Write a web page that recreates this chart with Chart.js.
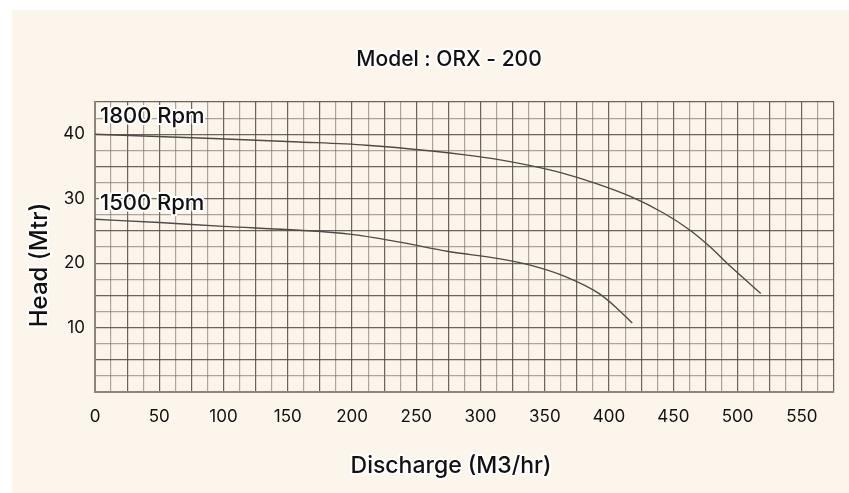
<!DOCTYPE html>
<html>
<head>
<meta charset="utf-8">
<script src="https://cdn.jsdelivr.net/npm/chart.js@4.4.1/dist/chart.umd.min.js"></script>
<style>
  html, body { margin: 0; padding: 0; background: #ffffff; }
  #wrap { width: 849px; height: 493px; }
</style>
</head>
<body>
<div id="wrap"><canvas id="pumpChart" width="849" height="493"></canvas></div>
<script>

// discharge (M3/hr) / head (Mtr)
var flow1800 = [0, 97, 159, 211, 262, 288, 313, 337, 363, 389, 417, 443, 463, 477, 495, 518];
var head1800 = [40, 39.3, 38.8, 38.3, 37.4, 36.8, 36.1, 35.2, 34.0, 32.4, 30.3, 27.7, 25.1, 22.8, 19.4, 15.3];

var flow1500 = [0, 50, 100, 159, 198, 236, 275, 314, 340, 366, 392, 405, 418];
var head1500 = [26.8, 26.3, 25.7, 25.1, 24.5, 23.3, 21.8, 20.7, 19.6, 17.9, 15.3, 13.2, 10.7];

var xTickLabels = [0, 50, 100, 150, 200, 250, 300, 350, 400, 450, 500, 550];
var yTickLabels = [10, 20, 30, 40];

var curveNames = ["1800 Rpm", "1500 Rpm"];
var nameAtHead = [42.8, 29.3];

var chartTitle = "Model : ORX - 200";
var xTitle = "Discharge (M3/hr)";
var yTitle = "Head (Mtr)";

var cream = "#fcf5ec";
var fontName = "Inter, 'Open Sans', sans-serif";

function toPoints(xs, ys) {
  var pts = [];
  for (var i = 0; i < xs.length; i++) {
    pts.push({ x: xs[i], y: ys[i] });
  }
  return pts;
}

function haloText(c, text, x, y, size) {
  c.font = "500 " + size + "px " + fontName;
  c.lineJoin = "round";
  c.strokeStyle = "#ffffff";
  c.lineWidth = 4;
  c.strokeText(text, x, y);
  c.fillStyle = "#111111";
  c.fillText(text, x, y);
}

var backdrop = {
  id: "backdrop",
  beforeDraw: function (chart) {
    var c = chart.ctx;
    c.save();
    c.fillStyle = "#ffffff";
    c.fillRect(0, 0, chart.width, chart.height);
    c.fillStyle = cream;
    c.fillRect(12, 10, chart.width - 12, chart.height - 10);
    c.restore();
  }
};

// titles and curve names with a white halo, like the original
var annotations = {
  id: "annotations",
  afterDraw: function (chart) {
    var c = chart.ctx;
    var ys = chart.scales.y;
    c.save();
    c.textBaseline = "middle";
    c.textAlign = "left";
    for (var i = 0; i < curveNames.length; i++) {
      haloText(c, curveNames[i], chart.chartArea.left + 5, ys.getPixelForValue(nameAtHead[i]), 22);
    }
    c.textAlign = "center";
    haloText(c, chartTitle, 449, 60, 21);
    haloText(c, xTitle, 451, 466, 23);
    c.translate(40, 265);
    c.rotate(-Math.PI / 2);
    haloText(c, yTitle, 0, 0, 24);
    c.restore();
  }
};

function gridColor(ctx) {
  return ctx.index % 2 ? "rgba(120,110,104,0.6)" : "rgba(80,73,70,0.85)";
}

var canvas = document.getElementById("pumpChart");
var ctx = canvas.getContext("2d");

new Chart(ctx, {
  type: "line",
  data: {
    datasets: [
      {
        label: curveNames[0],
        data: toPoints(flow1800, head1800),
        borderColor: "#4f4a48",
        borderWidth: 1.4,
        pointRadius: 0,
        cubicInterpolationMode: "monotone",
        fill: false
      },
      {
        label: curveNames[1],
        data: toPoints(flow1500, head1500),
        borderColor: "#4f4a48",
        borderWidth: 1.4,
        pointRadius: 0,
        cubicInterpolationMode: "monotone",
        fill: false
      }
    ]
  },
  options: {
    responsive: false,
    animation: false,
    layout: { padding: { left: 0, right: 13, top: 102, bottom: 0 } },
    plugins: {
      legend: { display: false },
      tooltip: { enabled: false },
      title: { display: false }
    },
    scales: {
      x: {
        type: "linear",
        min: 0,
        max: 575,
        afterFit: function (scale) { scale.height = 101; },
        afterBuildTicks: function (scale) {
          var t = [];
          for (var v = 0; v <= 575; v += 12.5) t.push({ value: v });
          scale.ticks = t;
        },
        ticks: {
          autoSkip: false,
          maxRotation: 0,
          padding: 15,
          color: "#111111",
          font: { family: fontName, size: 17 },
          callback: function (v) {
            return xTickLabels.indexOf(v) >= 0 ? String(v) : "";
          }
        },
        grid: { color: gridColor, lineWidth: 1.2, drawTicks: false },
        border: { color: "#8c847e", width: 2 }
      },
      y: {
        type: "linear",
        min: 0,
        max: 45,
        afterFit: function (scale) { scale.width = 95; },
        afterBuildTicks: function (scale) {
          var t = [];
          for (var v = 0; v <= 45; v += 2.5) t.push({ value: v });
          scale.ticks = t;
        },
        ticks: {
          autoSkip: false,
          padding: 10,
          color: "#111111",
          font: { family: fontName, size: 17 },
          callback: function (v) {
            return yTickLabels.indexOf(v) >= 0 ? String(v) : "";
          }
        },
        grid: { color: gridColor, lineWidth: 1.2, drawTicks: false },
        border: { color: "#8c847e", width: 2 }
      }
    }
  },
  plugins: [backdrop, annotations]
});
</script>
</body>
</html>
